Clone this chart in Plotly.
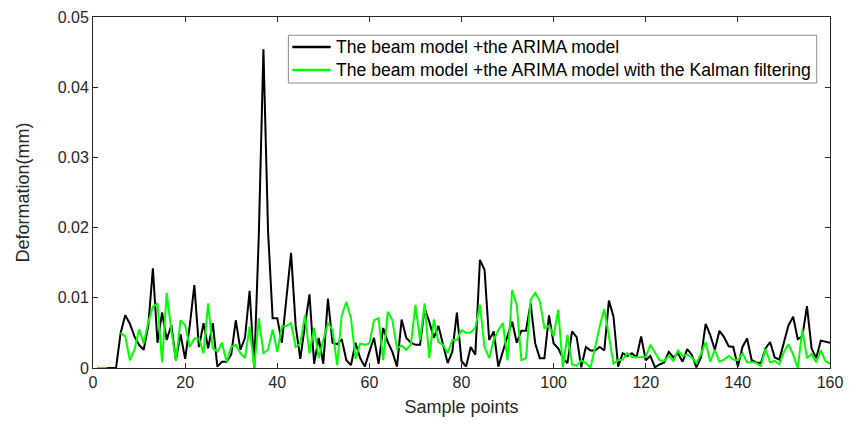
import plotly.graph_objects as go

# sample index 1..160
x = list(range(1, 161))

# The beam model + the ARIMA model
arima = [
    0, 0, 0, 0, 0, 0.005, 0.0075, 0.0063, 0.0045, 0.0033,
    0.0026, 0.006, 0.0142, 0.0036, 0.0079, 0.004, 0.0061, 0.0011, 0.0048, 0.0013,
    0.006, 0.0118, 0.003, 0.0064, 0.0028, 0.0064, 0.0002, 0.0009, 0.0009, 0.0019,
    0.0068, 0.0026, 0.0043, 0.011, 0.0, 0.019, 0.0454, 0.0195, 0.0071, 0.0071,
    0.0036, 0.01, 0.0164, 0.006, 0.0013, 0.006, 0.0105, 0.0006, 0.0043, 0.0006,
    0.0099, 0.0036, 0.0034, 0.0041, 0.0011, 0.0004, 0.0036, 0.0014, 0.0002, 0.0023,
    0.0043, 0.0006, 0.0057, 0.0037, 0.0023, 0.0002, 0.0069, 0.0043, 0.0036, 0.0033,
    0.0033, 0.0085, 0.0066, 0.0043, 0.006, 0.0033, 0.0007, 0.0023, 0.0079, 0.001,
    0.0002, 0.003, 0.0019, 0.0154, 0.014, 0.004, 0.0052, 0.0002, 0.0026, 0.0046,
    0.0066, 0.0036, 0.0053, 0.0053, 0.0092, 0.0035, 0.0014, 0.0014, 0.0075, 0.0035,
    0.0028, 0.0014, 0.0007, 0.0052, 0.0044, 0.0001, 0.003, 0.0025, 0.0025, 0.003,
    0.0025, 0.0096, 0.0073, 0.0002, 0.0021, 0.0017, 0.0021, 0.0015, 0.0045, 0.0011,
    0.0017, 0.0001, 0.0005, 0.0008, 0.0023, 0.0015, 0.0021, 0.0009, 0.0027, 0.0019,
    0.0001, 0.0015, 0.0063, 0.0047, 0.0026, 0.0053, 0.0044, 0.0031, 0.003, 0.0002,
    0.003, 0.0042, 0.0011, 0.0008, 0.0007, 0.0028, 0.0037, 0.0015, 0.0012, 0.0035,
    0.0061, 0.0073, 0.0041, 0.0045, 0.0088, 0.0028, 0.0014, 0.0039, 0.0038, 0.0036,
]

# The beam model + the ARIMA model with the Kalman filtering
kalman = [
    0, 0, 0, None, None, 0.005, 0.0045, 0.0011, 0.0026, 0.0055,
    0.0035, 0.0065, 0.0087, 0.0092, 0.0008, 0.0107, 0.0054, 0.0011, 0.0068, 0.0061,
    0.003, 0.0042, 0.0042, 0.0021, 0.0092, 0.0028, 0.0023, 0.0036, 0.0009, 0.003,
    0.0033, 0.0021, 0.0014, 0.0059, 0.0, 0.0071, 0.0021, 0.0026, 0.0055, 0.0023,
    0.0059, 0.006, 0.0064, 0.003, 0.0035, 0.0075, 0.0021, 0.0057, 0.0014, 0.004,
    0.0064, 0.0054, 0.0004, 0.0075, 0.0094, 0.0071, 0.0013, 0.0035, 0.0033, 0.0035,
    0.0068, 0.0071, 0.0011, 0.008, 0.0068, 0.0028, 0.0032, 0.0026, 0.0033, 0.009,
    0.004, 0.0092, 0.0014, 0.0069, 0.0037, 0.0033, 0.0021, 0.004, 0.004, 0.0054,
    0.005, 0.0051, 0.0057, 0.009, 0.003, 0.0014, 0.004, 0.0054, 0.0064, 0.0011,
    0.0111, 0.0089, 0.0011, 0.0014, 0.0097, 0.0107, 0.0095, 0.0057, 0.006, 0.0045,
    0.0083, 0.0001, 0.0047, 0.0005, 0.0003, 0.0011, 0.0007, 0.0, 0.003, 0.0059,
    0.0084, 0.0045, 0.0006, 0.0011, 0.0012, 0.0021, 0.0016, 0.0015, 0.0015, 0.0016,
    0.0033, 0.0021, 0.0011, 0.001, 0.0017, 0.001, 0.0025, 0.0017, 0.0019, 0.0015,
    0.0007, 0.002, 0.0037, 0.0009, 0.0026, 0.0009, 0.0012, 0.0017, 0.0012, 0.0011,
    0.0021, 0.0008, 0.0009, 0.0007, 0.0003, 0.0027, 0.0008, 0.001, 0.0005, 0.0023,
    0.0034, 0.0019, 0.0, 0.0055, 0.0014, 0.002, 0.0008, 0.0025, 0.001, 0.0006,
]

names = ["The beam model +the ARIMA model",
         "The beam model +the ARIMA model with the Kalman filtering"]
colors = ["black", "#00ff00"]

x_ticks = [0, 20, 40, 60, 80, 100, 120, 140, 160]
y_ticks = [0, 0.01, 0.02, 0.03, 0.04, 0.05]
y_labels = ["0", "0.01", "0.02", "0.03", "0.04", "0.05"]

fig = go.Figure()
for ys, name, col in zip([arima, kalman], names, colors):
    fig.add_trace(go.Scatter(x=x, y=ys, mode="lines",
                             line=dict(color=col, width=2), name=name))

axis_style = dict(
    showline=True, linecolor="#262626", linewidth=1, mirror="allticks",
    ticks="inside", ticklen=5, tickcolor="#262626",
    showgrid=False, zeroline=False, automargin=False,
    tickfont=dict(family="Arial", size=16, color="#262626"),
)

fig.update_xaxes(range=[0, 160], tickvals=x_ticks,
                 title=dict(text="Sample points", standoff=10,
                            font=dict(family="Arial", size=18, color="#262626")),
                 **axis_style)
fig.update_yaxes(range=[0, 0.05], tickvals=y_ticks, ticktext=y_labels,
                 title=dict(text="Deformation(mm)", standoff=23,
                            font=dict(family="Arial", size=18, color="#262626")),
                 **axis_style)

# MATLAB-style legend box drawn by hand (paper coords)
fig.add_shape(type="rect", xref="paper", yref="paper",
              x0=0.2651, x1=0.9820, y0=0.812, y1=0.948,
              line=dict(color="#8c8c8c", width=1), fillcolor="white", layer="above")
for row_y, name, col in zip([0.9145, 0.849], names, colors):
    fig.add_shape(type="line", xref="paper", yref="paper",
                  x0=0.2705, x1=0.3225, y0=row_y, y1=row_y,
                  line=dict(color=col, width=2.5), layer="above")
    fig.add_annotation(x=0.3265, y=row_y, xref="paper", yref="paper",
                       text=name, showarrow=False, xanchor="left", yanchor="middle",
                       font=dict(family="Arial", size=17.6, color="#000000"))

# the page body has an 8px margin, so the figure is drawn 8px smaller
fig.update_layout(
    width=851, height=419,
    margin=dict(l=85, r=29, t=9, b=59),
    plot_bgcolor="white", paper_bgcolor="white",
    font=dict(family="Arial", color="#262626"),
    showlegend=False,
)

fig.write_html("out.html")
